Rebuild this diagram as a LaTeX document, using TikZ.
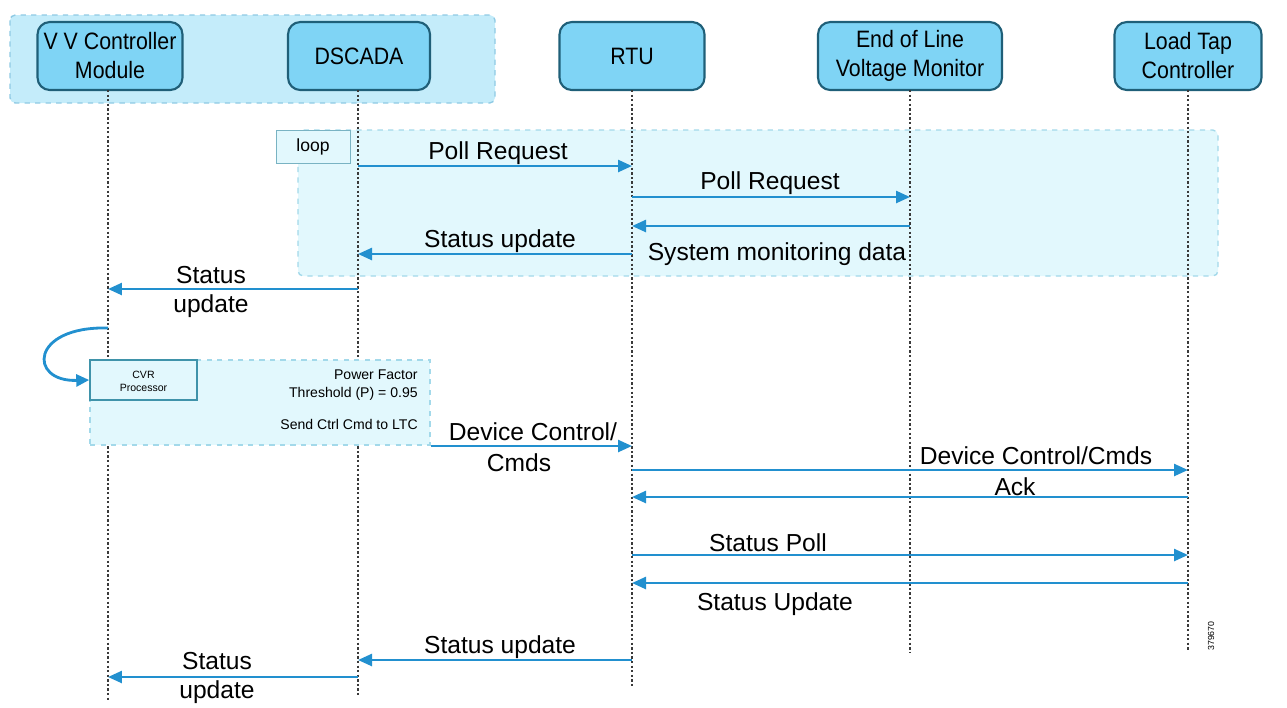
\documentclass[tikz,border=0pt]{standalone}
\usepackage{fontspec}
\setmainfont{Liberation Sans}
\newfontfamily\headfont[FakeStretch=0.9]{Liberation Sans}
\usetikzlibrary{arrows.meta}
\definecolor{headfill}{HTML}{7FD4F5}
\definecolor{headline}{HTML}{1F5F78}
\definecolor{groupfill}{HTML}{C4ECFA}
\definecolor{groupline}{HTML}{8FCAE4}
\definecolor{loopfill}{HTML}{E2F8FD}
\definecolor{loopline}{HTML}{A3D9EA}
\definecolor{msgblue}{HTML}{2290CF}
\definecolor{lifegray}{HTML}{3A3A3A}
\definecolor{cvrline}{HTML}{3F93AA}
\tikzset{
  head/.style={draw=headline,line width=1.2pt,fill=headfill,rounded corners=7pt,
    minimum height=1.36cm,inner xsep=0pt,align=center,font=\headfont\fontsize{13.5}{16.5}\selectfont},
  life/.style={draw=lifegray,line width=1.1pt,dash pattern=on 1.3pt off 1.3pt},
  msg/.style={draw=msgblue,line width=1.4pt,-{Triangle[length=0.28cm,width=0.24cm]}},
  lbl/.style={font=\fontsize{14}{16.5}\selectfont,inner sep=0pt,align=center},
  small/.style={font=\fontsize{8}{10}\selectfont,inner sep=0pt,align=right},
}
\begin{document}
\begin{tikzpicture}[x=0.02cm,y=-0.02cm]
\useasboundingbox (0,0) rectangle (1287,707);
% backgrounds
\draw[groupline,fill=groupfill,dashed,line width=0.8pt,rounded corners=3pt] (10,15) rectangle (495,103);
\draw[loopline,fill=loopfill,dashed,line width=0.8pt,rounded corners=3pt] (298,130) rectangle (1218,276);
\node[draw=cvrline!70,fill=loopfill,minimum width=1.48cm,minimum height=0.66cm,font=\fontsize{10}{12}\selectfont] (LOOP) at (313,146.5) {loop};
% heads
\node[head,minimum width=2.9cm] (VVC) at (110,56) {V V Controller\\Module};
\node[head,minimum width=2.84cm] (DSC) at (359,56) {DSCADA};
\node[head,minimum width=2.9cm] (RTU) at (632,56) {RTU};
\node[head,minimum width=3.68cm] (EOL) at (910,56) {End of Line\\Voltage Monitor};
\node[head,minimum width=2.94cm] (LTC) at (1188,56) {Load Tap\\Controller};
% lifelines
\coordinate (VVCend) at (108,702);
\coordinate (DSCend) at (358,697);
\coordinate (RTUend) at (632,686);
\coordinate (EOLend) at (910,652);
\coordinate (LTCend) at (1188,650);
\foreach \n/\x in {VVC/108,DSC/358,RTU/632,EOL/910,LTC/1188}
  \draw[life] (\x,90) -- (\n end);
% CVR block
\node[draw=loopline,fill=loopfill,dashed,line width=0.8pt,minimum width=6.8cm,minimum height=1.7cm] (CVRB) at (260,402.5) {};
\node[draw=cvrline,fill=loopfill,line width=0.9pt,minimum width=2.14cm,minimum height=0.8cm] (CVRP) at (143.5,380) {};
\node[font=\fontsize{6}{7}\selectfont,align=center,anchor=north] at (CVRP.north) [yshift=-0.12cm] {CVR\\Processor};
\node[small,anchor=east] at (418,385) {Power Factor\\Threshold (P) = 0.95};
\node[small,anchor=east] at (418,424) {Send Ctrl Cmd to LTC};
\draw[msgblue,line width=1.6pt,-{Triangle[length=0.26cm,width=0.24cm]}] (VVCend |- 0,328) .. controls (30,326) and (28,382) .. (CVRP.west);
% messages
\coordinate (m1) at (0,166);
\coordinate (m2) at (0,197);
\coordinate (m3) at (0,226);
\coordinate (m4) at (0,254);
\coordinate (m5) at (0,289);
\coordinate (m6) at (0,446);
\coordinate (m7) at (0,470);
\coordinate (m8) at (0,497);
\coordinate (m9) at (0,555);
\coordinate (m10) at (0,583);
\coordinate (m11) at (0,660);
\coordinate (m12) at (0,677);
\draw[msg] (DSCend |- m1) -- (RTUend |- m1);
\draw[msg] (RTUend |- m2) -- (EOLend |- m2);
\draw[msg] (EOLend |- m3) -- (RTUend |- m3);
\draw[msg] (RTUend |- m4) -- (DSCend |- m4);
\draw[msg] (DSCend |- m5) -- (VVCend |- m5);
\draw[msg] (CVRB.east |- m6) -- (RTUend |- m6);
\draw[msg] (RTUend |- m7) -- (LTCend |- m7);
\draw[msg] (LTCend |- m8) -- (RTUend |- m8);
\draw[msg] (RTUend |- m9) -- (LTCend |- m9);
\draw[msg] (LTCend |- m10) -- (RTUend |- m10);
\draw[msg] (RTUend |- m11) -- (DSCend |- m11);
\draw[msg] (DSCend |- m12) -- (VVCend |- m12);
% labels
\node[lbl] at (498,153) {Poll Request};
\node[lbl] at (770,183) {Poll Request};
\node[lbl] at (777,254) {System monitoring data};
\node[lbl] at (500,241) {Status update};
\node[lbl] at (211,292) {Status\\update};
\node[lbl] at (533,432) {Device Control/};
\node[lbl] at (519,463) {Cmds};
\node[lbl] at (1036,456) {Device Control/Cmds};
\node[lbl] at (1015,487) {Ack};
\node[lbl] at (768,543) {Status Poll};
\node[lbl] at (775,604) {Status Update};
\node[lbl] at (500,647) {Status update};
\node[lbl] at (217,678) {Status\\update};
\node[font=\fontsize{5}{6}\selectfont,rotate=90,inner sep=0pt] at (1211,636) {379670};
\end{tikzpicture}
\end{document}
